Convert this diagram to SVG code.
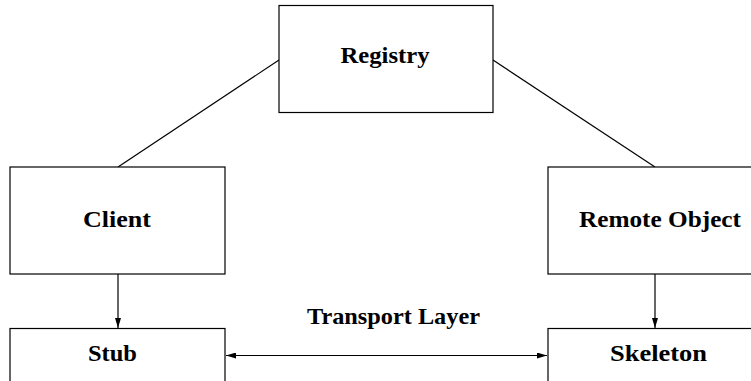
<svg xmlns="http://www.w3.org/2000/svg" width="751" height="381" viewBox="0 0 751 381">
<defs>
<marker id="ah" viewBox="0 0 10 6" refX="10" refY="3" markerWidth="10" markerHeight="6" markerUnits="userSpaceOnUse" orient="auto-start-reverse">
<path d="M0,0 L10,3 L0,6 Z" fill="#000"/>
</marker>
</defs>
<style>
.box{fill:#fff;stroke:#000;stroke-width:1.2}
text{font-family:"Liberation Serif","Times New Roman",serif;font-weight:bold;font-size:23px;fill:#000;text-anchor:middle}
.c{stroke:#000;stroke-width:1.2;fill:none}
</style>
<rect x="0" y="0" width="751" height="381" fill="#fff"/>
<g id="connectors">
<line class="c" x1="279" y1="60" x2="118" y2="167"/>
<line class="c" x1="493" y1="60" x2="655" y2="167"/>
<line class="c" x1="118" y1="274" x2="118" y2="328" marker-end="url(#ah)"/>
<line class="c" x1="655" y1="274" x2="655" y2="328" marker-end="url(#ah)"/>
<line class="c" x1="226" y1="355.5" x2="547" y2="355.5" marker-start="url(#ah)" marker-end="url(#ah)"/>
</g>
<g id="registry">
<rect class="box" x="279" y="5.5" width="214" height="107"/>
<text x="385" y="63" textLength="89" lengthAdjust="spacingAndGlyphs">Registry</text>
</g>
<g id="client">
<rect class="box" x="10" y="167" width="215" height="107"/>
<text x="117" y="227" textLength="68" lengthAdjust="spacingAndGlyphs">Client</text>
</g>
<g id="remote-object">
<rect class="box" x="548" y="167" width="225" height="107"/>
<text x="660" y="227" textLength="162" lengthAdjust="spacingAndGlyphs">Remote Object</text>
</g>
<g id="stub">
<rect class="box" x="10" y="328.5" width="215" height="70"/>
<text x="112.5" y="361" textLength="49" lengthAdjust="spacingAndGlyphs">Stub</text>
</g>
<g id="skeleton">
<rect class="box" x="548" y="328.5" width="225" height="70"/>
<text x="658.5" y="361" textLength="97" lengthAdjust="spacingAndGlyphs">Skeleton</text>
</g>
<g id="transport-label">
<text x="393.5" y="324" textLength="173" lengthAdjust="spacingAndGlyphs">Transport Layer</text>
</g>
</svg>
